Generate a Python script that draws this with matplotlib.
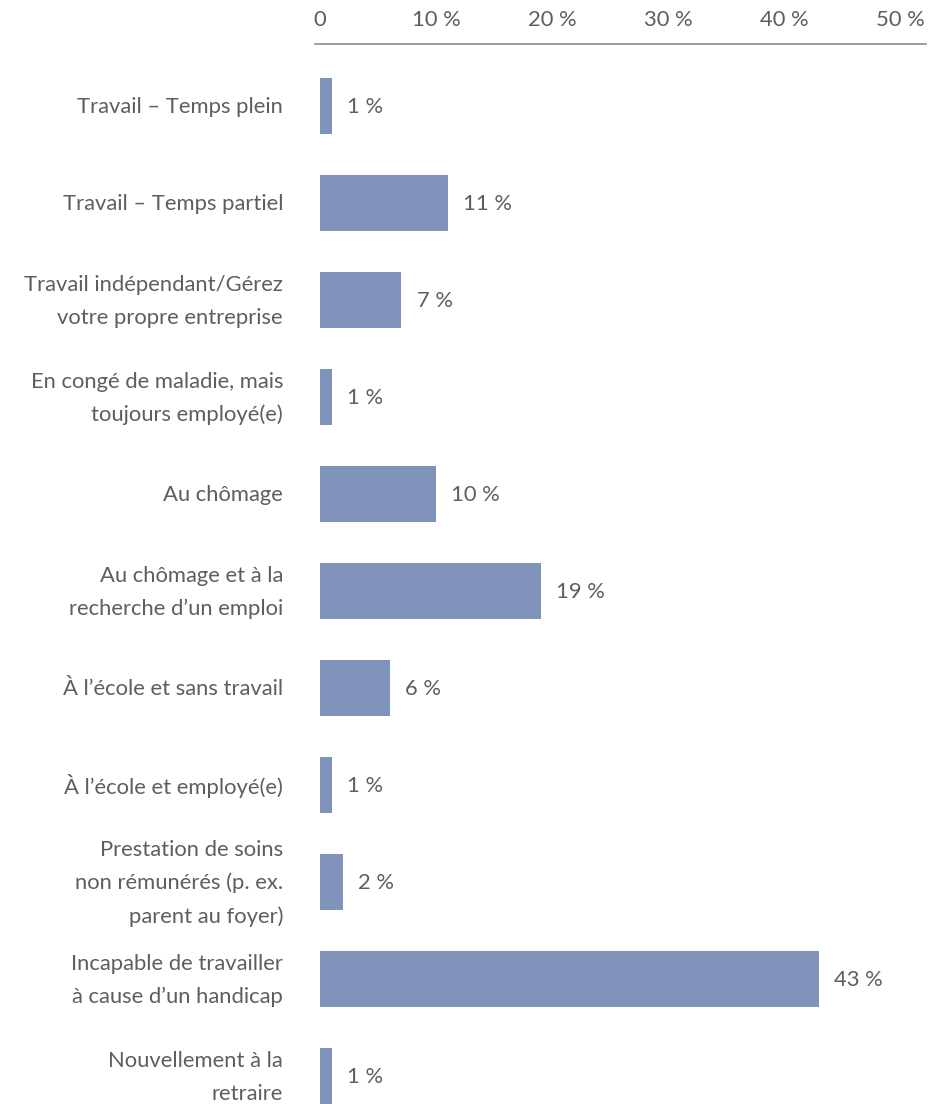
import matplotlib.pyplot as plt

plt.rcParams['font.family'] = ['Lato', 'DejaVu Sans']

categories = [
    "Travail – Temps plein",
    "Travail – Temps partiel",
    "Travail indépendant/Gérez\nvotre propre entreprise",
    "En congé de maladie, mais\ntoujours employé(e)",
    "Au chômage",
    "Au chômage et à la\nrecherche d’un emploi",
    "À l’école et sans travail",
    "À l’école et employé(e)",
    "Prestation de soins\nnon rémunérés (p. ex.\nparent au foyer)",
    "Incapable de travailler\nà cause d’un handicap",
    "Nouvellement à la\nretraire",
]
values = [1, 11, 7, 1, 10, 19, 6, 1, 2, 43, 1]
tick_values = [0, 10, 20, 30, 40, 50]
tick_labels = ["0", "10 %", "20 %", "30 %", "40 %", "50 %"]

bar_color = "#7f93bb"
text_color = "#5e5e5e"
fs = 15.8

W, H = 938, 1104
fig = plt.figure(figsize=(W / 100, H / 100), dpi=100)
ax = fig.add_axes([315 / W, 0, (926 - 315) / W, (H - 44) / H])

ypos = list(range(len(values)))
ax.barh(ypos, values, height=0.58, color=bar_color, left=0)

ax.set_xlim(-0.43, 52.2)
ax.set_ylim(10.29, -0.64)

# value labels just past the end of each bar
for y, v in zip(ypos, values):
    ax.annotate(f"{v} %", (v, y), xytext=(11, -1), textcoords="offset points",
                ha="left", va="center", fontsize=fs, color=text_color)

# category names, right-aligned left of the bars
for y, lab in zip(ypos, categories):
    ax.annotate(lab, (0, y), xycoords=("axes fraction", "data"),
                xytext=(-32 * 0.72, -1), textcoords="offset points",
                ha="right", va="center", fontsize=fs, color=text_color,
                linespacing=1.78)

ax.set_yticks([])
ax.xaxis.tick_top()
ax.set_xticks(tick_values)
ax.set_xticklabels(tick_labels)
ax.tick_params(axis="x", length=0, pad=10, labelsize=fs, labelcolor=text_color)

for side in ["left", "right", "bottom"]:
    ax.spines[side].set_visible(False)
ax.spines["top"].set_color("#8c8c8c")
ax.spines["top"].set_linewidth(1.2)

fig.savefig("out.png", dpi=100)
